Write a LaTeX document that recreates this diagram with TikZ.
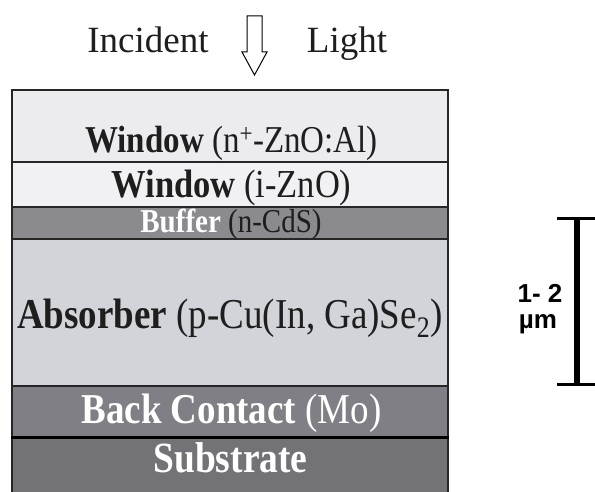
\documentclass[tikz,border=0pt]{standalone}
\usepackage{fontspec}
\setmainfont{Liberation Serif}
\setsansfont{Liberation Sans}
\usetikzlibrary{positioning}
\definecolor{winout}{HTML}{ECECEF}
\definecolor{winin}{HTML}{F1F1F3}
\definecolor{buffgray}{HTML}{8A8A8F}
\definecolor{absgray}{HTML}{D3D4D9}
\definecolor{backgray}{HTML}{7F7F85}
\definecolor{subgray}{HTML}{727277}
\definecolor{inkgray}{HTML}{1E1E1E}
\newcommand{\tallfont}[2]{\scalebox{1}[1.15]{\fontsize{#1}{#1}\selectfont #2}}

\begin{document}
\begin{tikzpicture}[x=1pt, y=-1pt]
\useasboundingbox (0,0) rectangle (595,492);
\tikzstyle{layer} = [draw=black!85, line width=1.6pt, minimum width=436pt, inner sep=0pt]
\tikzstyle{every node} = [inner sep=0pt, text=inkgray]
% layer stack
\node[layer, fill=winout, minimum height=72pt] (tco) at (230,126) {};
\node[layer, fill=winin, minimum height=45pt] (izno) at (230,184.5) {};
\node[layer, fill=buffgray, minimum height=32pt] (cds) at (230,223) {};
\node[layer, fill=absgray, minimum height=147pt] (cigs) at (230,312.5) {};
\node[layer, fill=backgray, minimum height=50pt] (mo) at (230,411.5) {};
\node[layer, fill=subgray, minimum height=60pt] (sub) at (230,466.5) {};
\draw[line width=2.6pt, black] (mo.south west) -- (mo.south east);
% layer labels
\tikzstyle{every node} = [inner sep=0pt, anchor=base, text=inkgray]
\node (ltco) at (231.5,153) {\tallfont{33}{\textbf{Window} (n\textsuperscript{+}-ZnO:Al)}};
\node (lizno) at (231.5,197) {\tallfont{34.5}{\textbf{Window} (i-ZnO)}};
\node (lcds) at (231,233) {\tallfont{29}{\textcolor{white}{\textbf{Buffer}} (n-CdS)}};
\node (lcigs) at (230,328) {\tallfont{37}{\textbf{Absorber} (p-Cu(In, Ga)Se\textsubscript{2})}};
\node[text=white] (lmo) at (231.5,423) {\tallfont{37}{\textbf{Back Contact} (Mo)}};
\node[text=white] (lsub) at (230.5,472) {\tallfont{37.5}{\textbf{Substrate}}};
% incident light
\node (linc) at (148,53) {\fontsize{37}{40}\selectfont Incident};
\node (llight) at (347,53) {\fontsize{37}{40}\selectfont Light};
\draw[line width=1pt, fill=white] (247,16) -- (262,16) -- (262,52) -- (267,52)
	-- (254.5,75) -- (242,52) -- (247,52) -- cycle;
% thickness bar
\coordinate (bartop) at (577,219);
\coordinate (barbot) at (577,384);
\draw[line width=6.5pt] (bartop) -- (barbot);
\draw[line width=3pt] (557,219) -- (597,219)
	(557,384) -- (597,384);
\node[text=black] (lthick) at (540,302) {\sffamily\bfseries\fontsize{26}{30}\selectfont 1- 2};
\node[text=black] (lunit) at (538,328) {\sffamily\bfseries\fontsize{26}{30}\selectfont µm};
\end{tikzpicture}
\end{document}
